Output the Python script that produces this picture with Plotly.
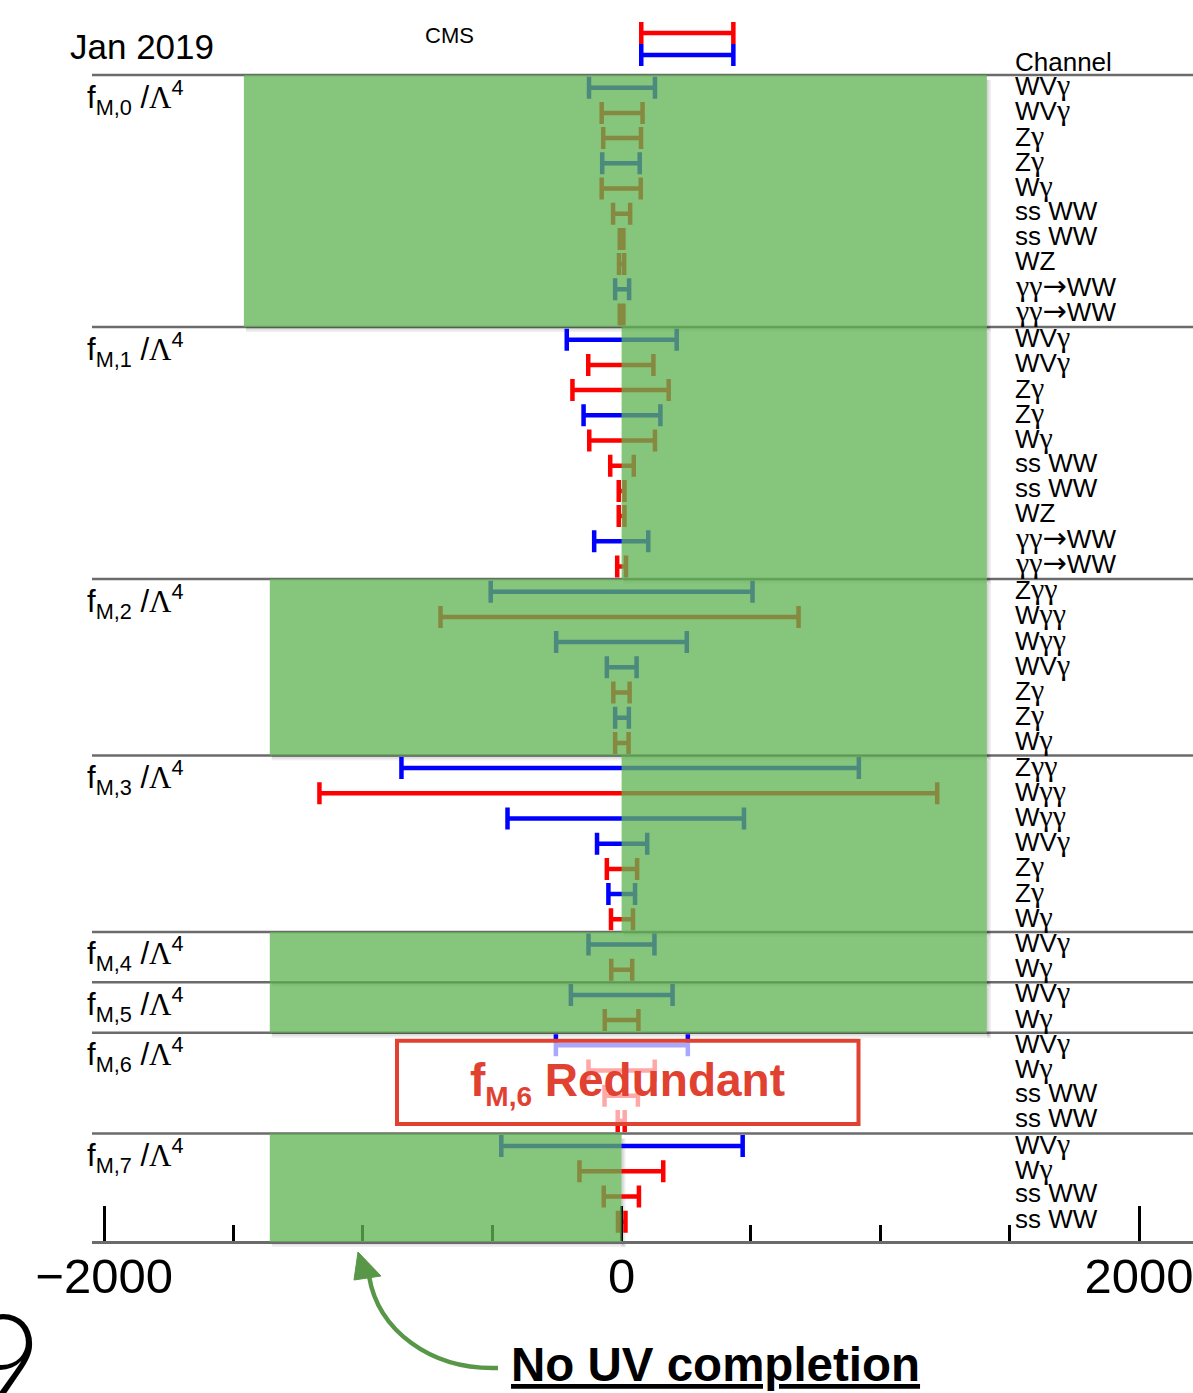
import plotly.graph_objects as go

W, H = 1193, 1393

# ---- data -------------------------------------------------------------
groups = ["M,0", "M,1", "M,2", "M,3", "M,4", "M,5", "M,6", "M,7"]
group_sizes = [10, 10, 7, 7, 2, 2, 4, 4]

channels = [
    "WVγ", "WVγ", "Zγ", "Zγ", "Wγ", "ss WW", "ss WW", "WZ", "γγ→WW", "γγ→WW",
    "WVγ", "WVγ", "Zγ", "Zγ", "Wγ", "ss WW", "ss WW", "WZ", "γγ→WW", "γγ→WW",
    "Zγγ", "Wγγ", "Wγγ", "WVγ", "Zγ", "Zγ", "Wγ",
    "Zγγ", "Wγγ", "Wγγ", "WVγ", "Zγ", "Zγ", "Wγ",
    "WVγ", "Wγ",
    "WVγ", "Wγ",
    "WVγ", "Wγ", "ss WW", "ss WW",
    "WVγ", "Wγ", "ss WW", "ss WW",
]

limit_lo = [
    -126, -77, -71, -75, -77, -33, -7, -10, -25, -7,
    -212, -129, -190, -147, -125, -44, -11, -11, -106, -17,
    -506, -700, -253, -57, -32, -25, -25,
    -851, -1168, -441, -95, -57, -51, -41,
    -128, -40,
    -196, -65,
    -254, -128, -66, -15,
    -465, -163, -69, -14,
]
limit_hi = [
    129, 81, 75, 70, 74, 33, 7, 10, 29, 7,
    213, 123, 182, 150, 129, 47, 11, 11, 103, 17,
    506, 684, 252, 58, 31, 28, 27,
    917, 1220, 473, 99, 60, 52, 44,
    127, 41,
    197, 65,
    256, 128, 63, 12,
    468, 161, 67, 15,
]
# b = blue result, r = red result
series = list(
    "brrbrrrrbr"
    "brrbrrrrbr"
    "brbbrbr"
    "brbbrbr"
    "br"
    "br"
    "brrr"
    "brrr"
)

# unitarity (no UV completion) bands per operator
band_groups = ["M,0", "M,1", "M,2", "M,3", "M,4", "M,5", "M,7"]
band_lo = [-1460, 0, -1360, 0, -1360, -1360, -1360]
band_hi = [1412, 1412, 1412, 1412, 1412, 1412, 0]

# key bars at the top
key_colours = ["r", "b"]
key_lo = [76, 76]
key_hi = [432, 432]

x_ticks = [-2000, 0, 2000]
x_tick_text = ["\u22122000", "0", "2000"]
x_minor_ticks = [-1500, -1000, -500, 500, 1000, 1500]

# ---- geometry ---------------------------------------------------------
X0_PX, PX_PER_UNIT = 621.6, 0.2587      # pixel of x=0, pixels per unit
ROW0_PX, ROW_PX = 87.7, 25.2            # pixel of first row, row pitch
LEFT_PX = 92                            # left end of frame lines
AXIS_PX = 1242                          # pixel row of the x axis

x_range = [(LEFT_PX - X0_PX) / PX_PER_UNIT, (W - X0_PX) / PX_PER_UNIT]
y_range = [(H - ROW0_PX) / ROW_PX, -ROW0_PX / ROW_PX]
axis_row = (AXIS_PX - ROW0_PX) / ROW_PX


def px_x(p):
    return p / W


def px_y(p):
    return 1 - p / H


def row_of(p):
    return (p - ROW0_PX) / ROW_PX


def label_html(text):
    out = ""
    for ch in text:
        if ch == "γ":
            out += "<span style='font-family:Liberation Serif;font-size:30px'>γ</span>"
        elif ch == "→":
            out += "<span style='font-family:DejaVu Sans;font-size:29px'>→</span>"
        else:
            out += ch
    return out


COL = {"b": "#0000ff", "r": "#ff0000"}
GREEN = "rgb(97,179,84)"
FONT = "Liberation Sans, Arial, sans-serif"

group_start = []
s = 0
for n in group_sizes:
    group_start.append(s)
    s += n
rows = list(range(len(channels)))

fig = go.Figure()

# ---- limit bars -------------------------------------------------------
for key in ["b", "r"]:
    idx = [i for i in rows if series[i] == key]
    cx = [(limit_lo[i] + limit_hi[i]) / 2 for i in idx]
    half = [(limit_hi[i] - limit_lo[i]) / 2 for i in idx]
    fig.add_trace(go.Scatter(
        x=cx, y=[rows[i] for i in idx], mode="markers",
        marker=dict(size=1, color="rgba(0,0,0,0)"),
        error_x=dict(type="data", array=half, symmetric=True,
                     color=COL[key], thickness=4.5, width=11),
        showlegend=False, hoverinfo="skip",
    ))

key_rows = [row_of(33), row_of(55)]
for k in range(len(key_colours)):
    fig.add_trace(go.Scatter(
        x=[(key_lo[k] + key_hi[k]) / 2], y=[key_rows[k]], mode="markers",
        marker=dict(size=1, color="rgba(0,0,0,0)"),
        error_x=dict(type="data", array=[(key_hi[k] - key_lo[k]) / 2],
                     symmetric=True, color=COL[key_colours[k]],
                     thickness=4.5, width=11),
        showlegend=False, hoverinfo="skip",
    ))

shapes = []

# frame lines between operators
for g, st in enumerate(group_start):
    yline = st - 0.5
    shapes.append(dict(type="line", xref="paper", yref="y",
                       x0=px_x(LEFT_PX), x1=1, y0=yline, y1=yline,
                       line=dict(color="#6b6b6b", width=2.5), layer="below"))

# unitarity bands with a soft drop shadow
dx = 4 / PX_PER_UNIT
dy = 5 / ROW_PX
for name, lo, hi in zip(band_groups, band_lo, band_hi):
    g = groups.index(name)
    y0 = group_start[g] - 0.5
    y1 = group_start[g] + group_sizes[g] - 0.5
    if g == len(groups) - 1:
        y1 = axis_row
    for k in range(3):
        a = 0.06
        shapes.append(dict(type="rect", xref="x", yref="y",
                           x0=lo + dx * 0.5, x1=hi + dx * (k + 1) / 3,
                           y0=y1, y1=y1 + dy * (k + 1) / 3,
                           fillcolor="rgba(0,0,0,%g)" % a, line=dict(width=0),
                           layer="below"))
        shapes.append(dict(type="rect", xref="x", yref="y",
                           x0=hi, x1=hi + dx * (k + 1) / 3,
                           y0=y0 + dy, y1=y1 + dy * (k + 1) / 3,
                           fillcolor="rgba(0,0,0,%g)" % a, line=dict(width=0),
                           layer="below"))
    shapes.append(dict(type="rect", xref="x", yref="y",
                       x0=lo, x1=hi, y0=y0, y1=y1,
                       fillcolor=GREEN, opacity=0.77, line=dict(width=0),
                       layer="above"))

# "redundant" box over f_M,6
shapes.append(dict(type="rect", xref="paper", yref="paper",
                   x0=px_x(397), x1=px_x(858.5), y0=px_y(1124), y1=px_y(1040.7),
                   fillcolor="rgba(255,255,255,0.66)",
                   line=dict(color="rgb(224,65,48)", width=4), layer="above"))

# curved arrow pointing at the band
ARROW = "rgb(88,150,72)"
pts = [(498, 1368), (430, 1370), (378, 1330), (369, 1276)]
path = "M %f,%f C %f,%f %f,%f %f,%f" % tuple(
    v for p in pts for v in (px_x(p[0]), px_y(p[1])))
shapes.append(dict(type="path", xref="paper", yref="paper", path=path,
                   line=dict(color=ARROW, width=4.5), layer="above"))
head = [(358, 1252), (354, 1280), (381, 1276)]
hpath = "M %f,%f L %f,%f L %f,%f Z" % tuple(
    v for p in head for v in (px_x(p[0]), px_y(p[1])))
shapes.append(dict(type="path", xref="paper", yref="paper", path=hpath,
                   fillcolor=ARROW, line=dict(color=ARROW, width=1),
                   layer="above"))

annotations = []

# channel names
for i in rows:
    annotations.append(dict(
        xref="paper", yref="y", x=px_x(1013), y=i - 0.12,
        xanchor="left", yanchor="middle", showarrow=False,
        text=label_html(channels[i]),
        font=dict(family=FONT, size=26, color="black")))
annotations.append(dict(
    xref="paper", yref="paper", x=px_x(1013), y=px_y(62),
    xanchor="left", yanchor="middle", showarrow=False, text="Channel",
    font=dict(family=FONT, size=26, color="black")))

# operator names
for g, name in enumerate(groups):
    top_px = ROW0_PX + (group_start[g] - 0.5) * ROW_PX
    annotations.append(dict(
        xref="paper", yref="paper", x=px_x(85), y=px_y(top_px + 22),
        xanchor="left", yanchor="middle", showarrow=False,
        text="f<sub>%s</sub> /<span style='font-family:Liberation Serif'>Λ</span><sup>4</sup>" % name,
        font=dict(family=FONT, size=31, color="black")))

annotations += [
    dict(xref="paper", yref="paper", x=px_x(68), y=px_y(46),
         xanchor="left", yanchor="middle", showarrow=False, text="Jan 2019",
         font=dict(family=FONT, size=35, color="black")),
    dict(xref="paper", yref="paper", x=px_x(423), y=px_y(35),
         xanchor="left", yanchor="middle", showarrow=False, text="CMS",
         font=dict(family=FONT, size=22, color="black")),
    dict(xref="paper", yref="paper", x=px_x(627.5), y=px_y(1083),
         xanchor="center", yanchor="middle", showarrow=False,
         text="<b>f<sub><span style='font-size:28px'>M,6</span></sub> Redundant</b>",
         font=dict(family=FONT, size=46, color="rgb(224,65,48)")),
    dict(xref="paper", yref="paper", x=px_x(509), y=px_y(1364),
         xanchor="left", yanchor="middle", showarrow=False,
         text="<b><u>No UV completion</u></b>",
         font=dict(family=FONT, size=47.5, color="black")),
    dict(xref="paper", yref="paper", x=px_x(44), y=px_y(1358),
         xanchor="right", yanchor="middle", showarrow=False, text="9",
         font=dict(family="Lato, Liberation Sans, sans-serif", size=135,
                   color="black", weight=300)),
]

fig.update_layout(
    width=W, height=H,
    margin=dict(l=0, r=0, t=0, b=0, autoexpand=False),
    paper_bgcolor="white", plot_bgcolor="white",
    shapes=shapes, annotations=annotations,
    xaxis=dict(domain=[px_x(LEFT_PX), 1], range=x_range, anchor="free",
               position=px_y(AXIS_PX), showgrid=False, zeroline=False,
               automargin=False, ticklabeloverflow="allow",
               showline=True, linecolor="#6b6b6b", linewidth=2.5,
               tickvals=x_ticks, ticktext=x_tick_text, ticks="inside",
               ticklen=35, tickwidth=2.5, tickcolor="black",
               tickfont=dict(family=FONT, size=49, color="black"),
               minor=dict(tickvals=x_minor_ticks, ticks="inside", ticklen=16,
                          tickwidth=2.5, tickcolor="black")),
    yaxis=dict(domain=[0, 1], range=y_range, visible=False, automargin=False,
               showgrid=False, zeroline=False),
)

# pull the tick labels up towards the axis line
try:
    fig.update_xaxes(ticklabelstandoff=-10)
except ValueError:
    pass

fig.write_html("out.html")
